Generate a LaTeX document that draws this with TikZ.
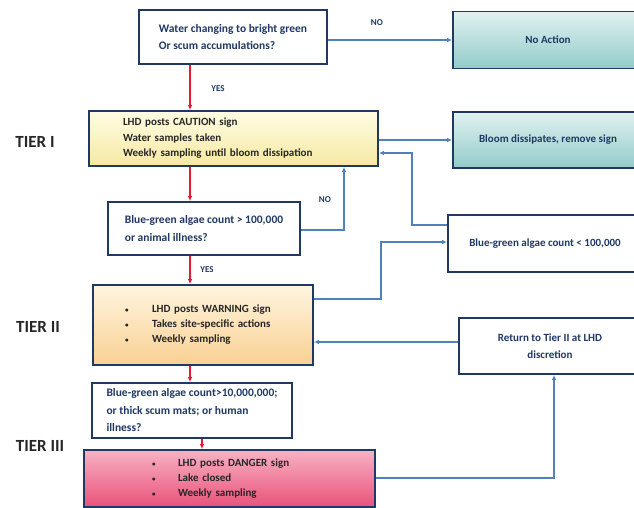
\documentclass[tikz,border=0pt]{standalone}
\usepackage{fontspec}
\setmainfont{Carlito}
\usetikzlibrary{arrows.meta}

\definecolor{boxline}{RGB}{31,56,100}
\definecolor{flowblue}{RGB}{79,129,189}
\definecolor{flowred}{RGB}{226,28,52}
\definecolor{tealtop}{RGB}{224,242,240}
\definecolor{tealbot}{RGB}{146,203,202}
\definecolor{cautiontop}{RGB}{255,253,228}
\definecolor{cautionbot}{RGB}{246,232,162}
\definecolor{warningtop}{RGB}{255,245,224}
\definecolor{warningbot}{RGB}{249,208,146}
\definecolor{dangertop}{RGB}{247,178,196}
\definecolor{dangerbot}{RGB}{233,82,122}

\newcommand{\tierdot}[1][27pt]{\makebox[#1][l]{\fontsize{7}{7}\selectfont\textbullet}}

\begin{document}
\begin{tikzpicture}[x=1pt, y=-1pt,
    box/.style={draw=boxline, line width=1.8pt, inner sep=0pt, font=\fontsize{11}{15.5}\selectfont\bfseries},
    question/.style={box, fill=white, align=left, text=boxline, font=\fontsize{11.5}{17.5}\selectfont\bfseries},
    result/.style={box, fill=white, align=center, text=boxline},
    outcome/.style={box, top color=tealtop, bottom color=tealbot, align=center, text=boxline},
    tierbox/.style={box, align=left, text=black!85},
    tierlabel/.style={font=\fontsize{17}{17}\selectfont\bfseries, text=black!85},
    answer/.style={font=\fontsize{9}{9}\selectfont\bfseries, text=boxline},
    yes/.style={draw=flowred, line width=1.3pt, -{Latex[length=5pt,width=4.5pt]}},
    no/.style={draw=flowblue, line width=1.2pt, -{Latex[length=5pt,width=4.5pt]}}]
    \useasboundingbox (0,0) rectangle (634,508);

    \node[question, minimum width=188pt, minimum height=54pt] (water) at (233,37) {Water changing to bright green\\Or scum accumulations?};
    \node[outcome, minimum width=190pt, minimum height=57pt] (noaction) at (548,40) {No Action};
    \node[tierbox, top color=cautiontop, bottom color=cautionbot, minimum height=55pt, text width=221pt, inner xsep=34pt] (tierone) at (233.5,138.5) {LHD posts CAUTION sign\\Water samples taken\\Weekly sampling until bloom dissipation};
    \node[outcome, minimum width=190pt, minimum height=56pt] (bloom) at (548,140) {Bloom dissipates, remove sign};
    \node[question, minimum width=192pt, minimum height=53pt] (countover) at (204,228.5) {Blue-green algae count > 100,000\\ or animal illness?};
    \node[result, minimum width=194pt, minimum height=57pt] (countunder) at (545,243.5) {Blue-green algae count < 100,000};
    \node[tierbox, top color=warningtop, bottom color=warningbot, minimum height=80pt, text width=156pt, inner xsep=32pt, font=\fontsize{11}{15}\selectfont\bfseries] (tiertwo) at (203,325) {\tierdot LHD posts WARNING sign\\\tierdot Takes site-specific actions\\\tierdot Weekly sampling};
    \node[result, minimum width=182pt, minimum height=56pt, font=\fontsize{11}{17}\selectfont\bfseries] (returnbox) at (550,346) {Return to Tier II at LHD\\discretion};
    \node[question, minimum width=200pt, minimum height=55pt] (countmillion) at (192,410.5) {Blue-green algae count>10,000,000;\\or thick scum mats; or human\\illness?};
    \node[tierbox, top color=dangertop, bottom color=dangerbot, minimum height=57pt, text width=155pt, inner xsep=68pt, font=\fontsize{11}{15}\selectfont\bfseries] (tierthree) at (229.5,478.5) {\tierdot[26pt]LHD posts DANGER sign\\\tierdot[26pt]Lake closed\\\tierdot[26pt]Weekly sampling};

    \node[tierlabel] (labelone) at (35,142) {TIER I};
    \node[tierlabel] (labeltwo) at (38,327) {TIER II};
    \node[tierlabel] (labelthree) at (40,446) {TIER III};

    \node[answer] (noone) at (377,23) {NO};
    \node[answer] (yesone) at (218,89) {YES};
    \node[answer] (notwo) at (325,200) {NO};
    \node[answer] (yestwo) at (207,270) {YES};

    \coordinate (spine) at (190,0);
    \coordinate (spinetwo) at (202,0);
    \draw[yes] (water.south -| spine) -- (tierone.north -| spine);
    \draw[yes] (tierone.south -| spine) -- (countover.north -| spine);
    \draw[yes] (countover.south -| spine) -- (tiertwo.north -| spine);
    \draw[yes] (tiertwo.south -| spine) -- (countmillion.north -| spine);
    \draw[yes] (countmillion.south -| spinetwo) -- (tierthree.north -| spinetwo);

    \coordinate (noback) at (344,230);
    \coordinate (underback) at (412,225);
    \coordinate (underturn) at (412,153);
    \coordinate (warnout) at (381,299);
    \coordinate (warnturn) at (381,242);
    \coordinate (backtwo) at (0,342);
    \coordinate (dangerturn) at (554,478);
    \draw[no] (noaction.west -| water.east) -- (noaction.west);
    \draw[no] (bloom.west -| tierone.east) -- (bloom.west);
    \draw[no] (noback -| countover.east) -- (noback) -- (noback |- tierone.south);
    \draw[no] (underback -| countunder.west) -- (underback) -- (underturn) -- (underturn -| tierone.east);
    \draw[no] (warnout -| tiertwo.east) -- (warnout) -- (warnturn) -- (warnturn -| countunder.west);
    \draw[no] (backtwo -| returnbox.west) -- (backtwo -| tiertwo.east);
    \draw[no] (dangerturn -| tierthree.east) -- (dangerturn) -- (dangerturn |- returnbox.south);
\end{tikzpicture}
\end{document}
